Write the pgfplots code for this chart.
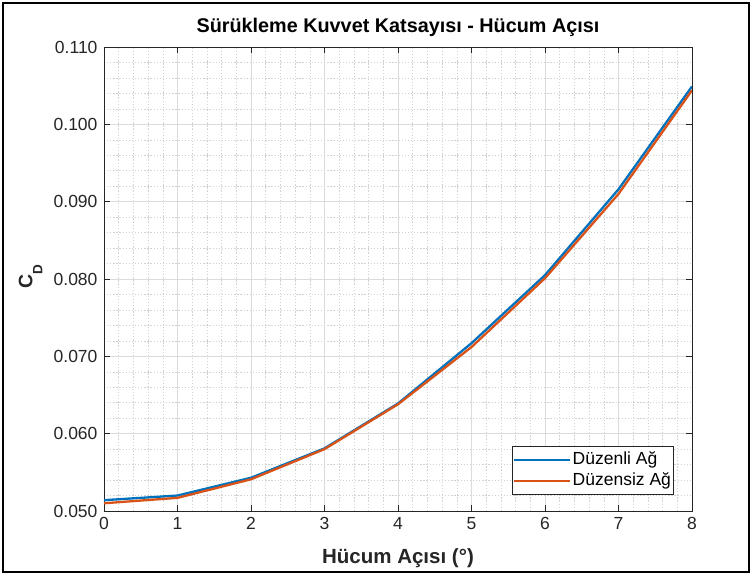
\documentclass[border=0pt]{standalone}
\usepackage{fontspec}
\setmainfont{Liberation Sans}
\usepackage{pgfplots}
\pgfplotsset{compat=1.18}
\definecolor{mblue}{rgb}{0,0.447,0.741}
\definecolor{morange}{rgb}{0.85,0.325,0.098}
\definecolor{axgray}{rgb}{0.15,0.15,0.15}
\begin{document}
\begin{tikzpicture}
\useasboundingbox (-104pt,-63pt) rectangle (648pt,511pt);
\fill[white] (-104pt,-63pt) rectangle (648pt,511pt);
\draw[line width=2pt] (-101pt,-61pt) rectangle (645pt,508pt);
\begin{axis}[
  at={(0pt,0pt)}, anchor=south west,
  scale only axis, width=588pt, height=464pt,
  xmin=0, xmax=8, ymin=0.05, ymax=0.11,
  xtick={0,1,2,3,4,5,6,7,8},
  ytick={0.05,0.06,0.07,0.08,0.09,0.10,0.11},
  yticklabel style={xshift=-3pt, /pgf/number format/.cd, fixed, fixed zerofill, precision=3},
  /pgf/number format/assume math mode=true,
  scaled y ticks=false,
  tick label style={font=\fontsize{17.5}{20}\selectfont, text=axgray},
  xticklabel style={yshift=-3pt},
  grid=both, minor tick num=4,
  major grid style={gray!28, line width=0.6pt},
  minor grid style={gray!35, dash pattern=on 1.3pt off 1.8pt, line width=0.5pt},
  tick align=inside, major tick length=6pt, minor tick length=0pt,
  axis line style={axgray, line width=0.6pt},
  major tick style={axgray, line width=0.6pt},
  title={\bfseries Sürükleme Kuvvet Katsayısı - Hücum Açısı},
  title style={font=\fontsize{19.8}{23}\selectfont, at={(axis description cs:0.5,1)}, anchor=base, yshift=8pt, text=black},
  xlabel={\bfseries Hücum Açısı (°)},
  xlabel style={font=\fontsize{20.5}{24}\selectfont, at={(axis description cs:0.5,0)}, anchor=base, yshift=-52pt, text=axgray},
  ylabel={\bfseries C\raisebox{-10pt}{\fontsize{13.5}{15}\selectfont\bfseries D}},
  ylabel style={font=\fontsize{19.5}{22}\selectfont, at={(axis description cs:-0.125,0.505)}, anchor=center, text=axgray},
  legend style={at={(rel axis cs:0.969,0.0345)}, anchor=south east, font=\fontsize{17.5}{20}\selectfont, draw=axgray, line width=0.6pt, inner xsep=1pt, inner ysep=3pt, row sep=0pt,
    nodes={inner sep=1.5pt, text height=13pt, text depth=5pt}},
  legend cell align=left,
  legend image code/.code={\draw[#1, line width=2.3pt] (1pt,0pt) -- (57pt,0pt);},
]
\addplot[mblue, line width=2.3pt] coordinates {
(0,0.0514) (1,0.0520) (2,0.0543) (3,0.0581) (4,0.0639) (5,0.0717) (6,0.0805) (7,0.0916) (8,0.1049)
};
\addlegendentry{Düzenli Ağ}
\addplot[morange, line width=2.3pt] coordinates {
(0,0.0510) (1,0.0517) (2,0.0541) (3,0.0580) (4,0.0638) (5,0.0712) (6,0.0801) (7,0.0910) (8,0.1044)
};
\addlegendentry{Düzensiz Ağ}
\end{axis}
\end{tikzpicture}
\end{document}
